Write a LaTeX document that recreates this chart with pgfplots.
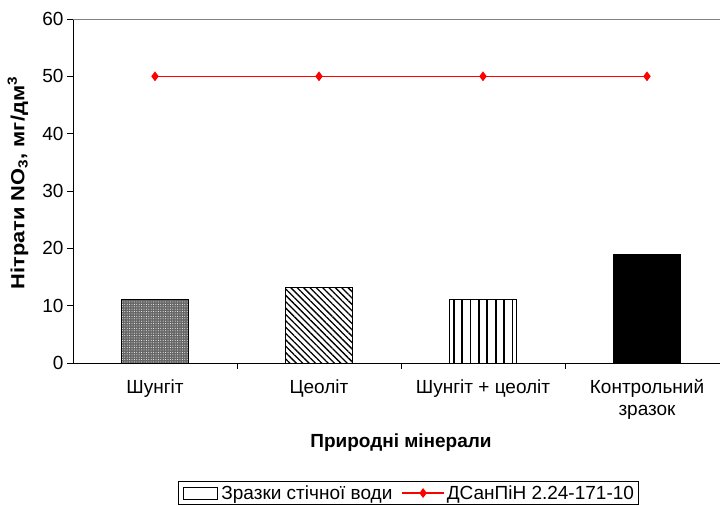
\documentclass[border=0pt]{standalone}
\usepackage{fontspec}
\setmainfont{Liberation Sans}
\usepackage{pgfplots}
\pgfplotsset{compat=1.18}
\usetikzlibrary{patterns.meta}
\newcommand{\chartfont}{\fontsize{19bp}{22bp}\selectfont}
\begin{document}
\begin{tikzpicture}[font=\chartfont]
\begin{axis}[
  scale only axis,
  width=656bp, height=344bp,
  anchor=south west, at={(0,0)},
  xmin=-0.5, xmax=3.5, ymin=0, ymax=60,
  axis x line*=bottom, axis y line*=left,
  axis line style={black, line width=1pt},
  xtick={0,1,2,3},
  xticklabels={Шунгіт, Цеоліт, Шунгіт + цеоліт, {Контрольний\\зразок}},
  x tick label style={align=center, font=\chartfont, yshift=-7bp},
  major x tick style={draw=none},
  minor xtick={0.5,1.5,2.5},
  extra x ticks={-0.5,3.5}, extra x tick labels={},
  extra x tick style={major tick length=6bp, tick style={black,line width=1pt}, tickpos=left},
  minor tick length=6bp,
  minor x tick style={black, line width=1pt},
  ytick={0,10,...,60},
  y tick label style={font=\chartfont},
  ytick style={black, line width=1pt},
  major tick length=6bp,
  tick align=outside,
  /pgf/number format/assume math mode=true,
  xlabel={\bfseries Природні мінерали},
  xlabel style={font=\chartfont, at={(axis description cs:0.5,-0.232)}, anchor=center},
  ylabel={\scalebox{1.15}[1]{\bfseries Нітрати NO\textsubscript{3}, мг/дм\textsuperscript{3}}},
  ylabel style={font=\chartfont, at={(axis description cs:-0.0838,0.523)}, anchor=center, rotate=0},
  legend columns=2,
  legend style={at={(0.511,-0.378)}, anchor=center, draw=black, line width=0.6pt,
    font=\chartfont, inner sep=2bp,
    /tikz/every odd column/.append style={column sep=0bp},
    /tikz/every even column/.append style={column sep=7bp}},
  legend cell align=left,
  clip=false,
]
\draw[gray, line width=1pt] (axis cs:-0.5,60) -- (axis cs:3.5,60);
\addplot[ybar, bar shift=0pt, bar width=67bp, draw=black, line width=1pt, fill=black!60,
  postaction={pattern={Dots[distance=2.4bp, radius=0.5bp]}, pattern color=white}, forget plot]
  coordinates {(0,11.1)};
\addplot[ybar, bar shift=0pt, bar width=67bp, draw=black, line width=1pt, fill=white,
  postaction={pattern={Lines[angle=-45, distance=4.5bp, line width=1.3bp]}, pattern color=black}, forget plot]
  coordinates {(1,13.1)};
\addplot[ybar, bar shift=0pt, bar width=67bp, draw=black, line width=1pt, fill=white,
  postaction={pattern={Lines[angle=90, distance=8.4bp, line width=1.8bp]}, pattern color=black}, forget plot]
  coordinates {(2,11.0)};
\addplot[ybar, bar shift=0pt, bar width=67bp, draw=black, line width=1pt, fill=black, forget plot]
  coordinates {(3,19.0)};
\addlegendimage{legend image code/.code={\path[draw=none] (0bp,0bp) -- (39bp,0bp); \draw[black, line width=0.8pt, fill=white] (3bp,-6bp) rectangle (37bp,6bp);}}
\addlegendentry{Зразки стічної води}
\addplot[red, line width=1.4pt, mark=diamond*, mark size=3.8bp, mark options={fill=red, solid},
  legend image code/.code={\draw[red, line width=1.4pt] (0bp,0bp) -- (42bp,0bp);
    \draw[red, fill=red] plot[mark=diamond*, mark size=3.8bp] coordinates {(21bp,0bp)};}]
  coordinates {(0,50) (1,50) (2,50) (3,50)};
\addlegendentry{ДСанПіН 2.24-171-10}
\end{axis}
\pgfresetboundingbox
\path[use as bounding box] (-73bp,-143bp) rectangle (647bp,363bp);
\end{tikzpicture}
\end{document}
